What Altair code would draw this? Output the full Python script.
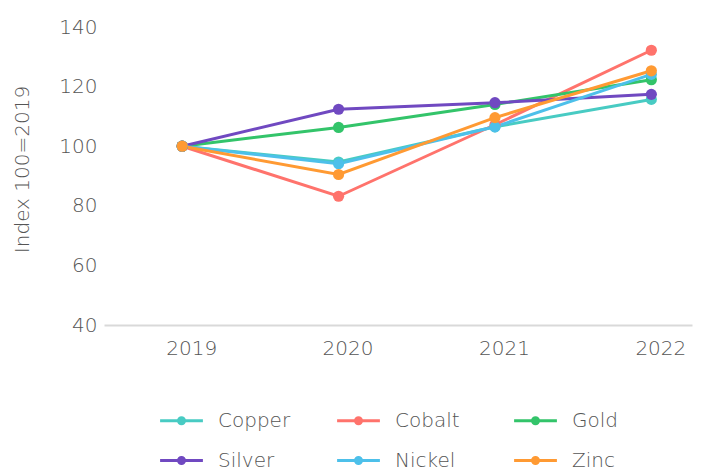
import altair as alt
import pandas as pd

years = [2019, 2020, 2021, 2022]
metals = ["Copper", "Cobalt", "Gold", "Silver", "Nickel", "Zinc"]
copper = [100, 94.7, 106.5, 115.7]
cobalt = [100, 83.2, 107.2, 132.2]
gold = [100, 106.3, 114.0, 122.3]
silver = [100, 112.4, 114.6, 117.4]
nickel = [100, 94.1, 106.5, 124.1]
zinc = [100, 90.5, 109.6, 125.3]
colors = ["#48CBC3", "#FF736C", "#33C46A", "#7049C1", "#4DC0EA", "#FF9A33"]

series = [copper, cobalt, gold, silver, nickel, zinc]
rows = []
for i, (m, vals) in enumerate(zip(metals, series)):
    for y, v in zip(years, vals):
        rows.append({"metal": m, "year": y, "value": v, "order": i})
df = pd.DataFrame(rows)

FONT = "DejaVu Sans"
GRAY = "#555555"
WEIGHT = 200
FS = 20

legend_symbol = "M-1.07,0 L1.07,0 M-0.15,0 A0.15,0.15 0 1,1 0.15,0 A0.15,0.15 0 1,1 -0.15,0 Z"

color = alt.Color(
    "metal:N",
    scale=alt.Scale(domain=metals, range=colors),
    legend=alt.Legend(
        title=None,
        orient="none",
        legendX=56,
        legendY=372,
        direction="horizontal",
        columns=3,
        gridAlign="all",
        columnPadding=40,
        rowPadding=8,
        symbolType=legend_symbol,
        symbolSize=1600,
        symbolStrokeWidth=3,
        labelFontSize=FS,
        labelFont=FONT,
        labelFontWeight=WEIGHT,
        labelColor=GRAY,
        labelOffset=15,
        padding=0,
    ),
)

x = alt.X(
    "year:Q",
    scale=alt.Scale(domain=[2018.5, 2022.26], nice=False, zero=False),
    axis=alt.Axis(
        title=None,
        values=years,
        format="d",
        grid=False,
        ticks=False,
        domain=True,
        domainColor="#D9D9D9",
        domainWidth=2,
        labelFontSize=FS,
        labelFont=FONT,
        labelFontWeight=WEIGHT,
        labelColor=GRAY,
        labelPadding=13,
        labelOffset=9,
    ),
)
y = alt.Y(
    "value:Q",
    scale=alt.Scale(domain=[40, 140], nice=False, zero=False),
    axis=alt.Axis(
        title="Index 100=2019",
        values=[40, 60, 80, 100, 120, 140],
        grid=False,
        ticks=False,
        domain=False,
        labelFontSize=FS,
        labelFont=FONT,
        labelFontWeight=WEIGHT,
        labelColor=GRAY,
        labelPadding=7,
        titleFontSize=FS,
        titleFont=FONT,
        titleColor=GRAY,
        titleFontWeight=WEIGHT,
        titleX=-82,
        titleY=142,
        titleAngle=270,
        titleAlign="center",
        titleBaseline="middle",
    ),
)

base = alt.Chart(df)
lines = base.mark_line(strokeWidth=3).encode(x=x, y=y, color=color, order="order:Q")
points = base.mark_circle(size=125, opacity=1).encode(x=x, y=y, color=color, order="order:Q")

chart = (
    alt.layer(lines, points)
    .properties(
        width=588,
        height=298,
        background="white",
        autosize=alt.AutoSizeParams(type="none"),
        padding={"left": 96, "top": 19, "right": 5, "bottom": 145},
    )
    .configure_view(strokeWidth=0, stroke="transparent")
)

chart.save("out.html", embed_options={"renderer": "svg", "actions": False})
